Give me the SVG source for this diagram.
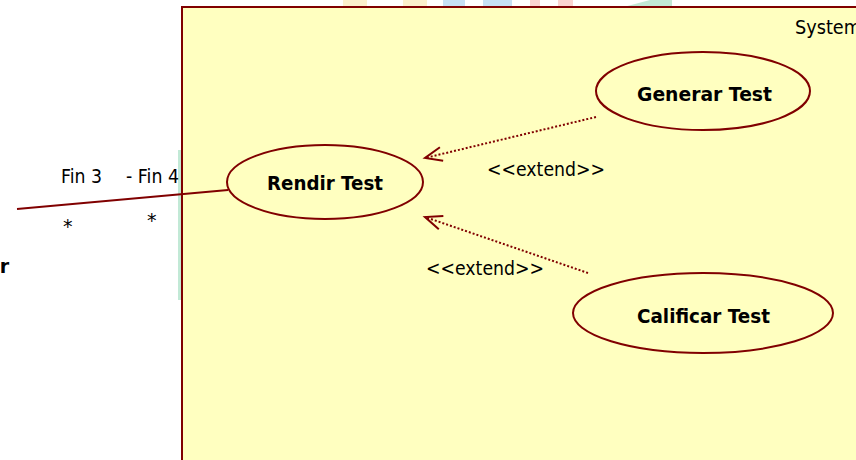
<svg xmlns="http://www.w3.org/2000/svg" width="856" height="460" viewBox="0 0 856 460">
  <defs>
    <style>
      .uc { fill: #ffffc0; stroke: #800000; stroke-width: 2; }
      .uc-label { font-family: "DejaVu Sans", Verdana, sans-serif; font-weight: bold; font-size: 19px; fill: #000; text-anchor: middle; }
      .txt { font-family: "DejaVu Sans", Verdana, sans-serif; font-size: 19px; fill: #000; }
      .assoc { stroke: #800000; stroke-width: 2; fill: none; }
      .ext { stroke: #800000; stroke-width: 2; fill: none; stroke-dasharray: 2 2; }
    </style>
    <marker id="open-arrow" markerUnits="userSpaceOnUse" markerWidth="24" markerHeight="20" viewBox="-21 -10 24 20" refX="0" refY="0" orient="auto">
      <path d="M -17 -7 L 0 0 L -17 7" fill="none" stroke="#800000" stroke-width="2"/>
    </marker>
  </defs>

  <rect width="856" height="460" fill="#ffffff"/>

  <!-- faint background logo marks -->
  <g id="backdrop" opacity="0.35">
    <rect x="343" y="0" width="24" height="8" fill="#f5d76e"/>
    <rect x="403" y="0" width="24" height="8" fill="#f5d76e"/>
    <rect x="443" y="0" width="22" height="8" fill="#5da9e0"/>
    <rect x="483" y="0" width="29" height="8" fill="#5da9e0"/>
    <rect x="530" y="0" width="10" height="8" fill="#f4877a"/>
    <rect x="558" y="0" width="15" height="8" fill="#f4877a"/>
    <polygon points="620,8 650,0 672,0 672,8" fill="#4fbf8a"/>
    <rect x="178" y="150" width="3" height="150" fill="#4fbf8a"/>
  </g>

  <!-- system boundary -->
  <g id="system">
    <rect x="182" y="7" width="700" height="470" fill="#ffffc0" stroke="#800000" stroke-width="2"/>
    <text class="txt" x="795" y="34" textLength="66" lengthAdjust="spacingAndGlyphs">System</text>
  </g>

  <!-- connectors -->
  <g id="connectors">
    <line class="assoc" x1="17" y1="209" x2="228" y2="190"/>
    <line class="ext" x1="596" y1="117" x2="425" y2="158" marker-end="url(#open-arrow)"/>
    <line class="ext" x1="588" y1="273" x2="425" y2="217" marker-end="url(#open-arrow)"/>
    <text class="txt" x="487" y="176" textLength="118" lengthAdjust="spacingAndGlyphs">&lt;&lt;extend&gt;&gt;</text>
    <text class="txt" x="426" y="275" textLength="118" lengthAdjust="spacingAndGlyphs">&lt;&lt;extend&gt;&gt;</text>
    <text class="txt" x="61" y="183" textLength="41" lengthAdjust="spacingAndGlyphs">Fin 3</text>
    <text class="txt" x="126" y="183" textLength="53" lengthAdjust="spacingAndGlyphs">- Fin 4</text>
    <text class="txt" x="63" y="233">*</text>
    <text class="txt" x="147" y="227">*</text>
  </g>

  <!-- actor name, partly outside the view -->
  <g id="actor">
    <text class="uc-label" x="9" y="273" style="text-anchor:end">r</text>
  </g>

  <g id="uc-generar">
    <ellipse class="uc" cx="703" cy="91" rx="107" ry="39"/>
    <text class="uc-label" x="704.5" y="101" textLength="135" lengthAdjust="spacingAndGlyphs">Generar Test</text>
  </g>

  <g id="uc-rendir">
    <ellipse class="uc" cx="325" cy="182" rx="98" ry="37"/>
    <text class="uc-label" x="325" y="190" textLength="116" lengthAdjust="spacingAndGlyphs">Rendir Test</text>
  </g>

  <g id="uc-calificar">
    <ellipse class="uc" cx="703" cy="313" rx="130" ry="40"/>
    <text class="uc-label" x="703.5" y="323" textLength="133" lengthAdjust="spacingAndGlyphs">Calificar Test</text>
  </g>
</svg>
